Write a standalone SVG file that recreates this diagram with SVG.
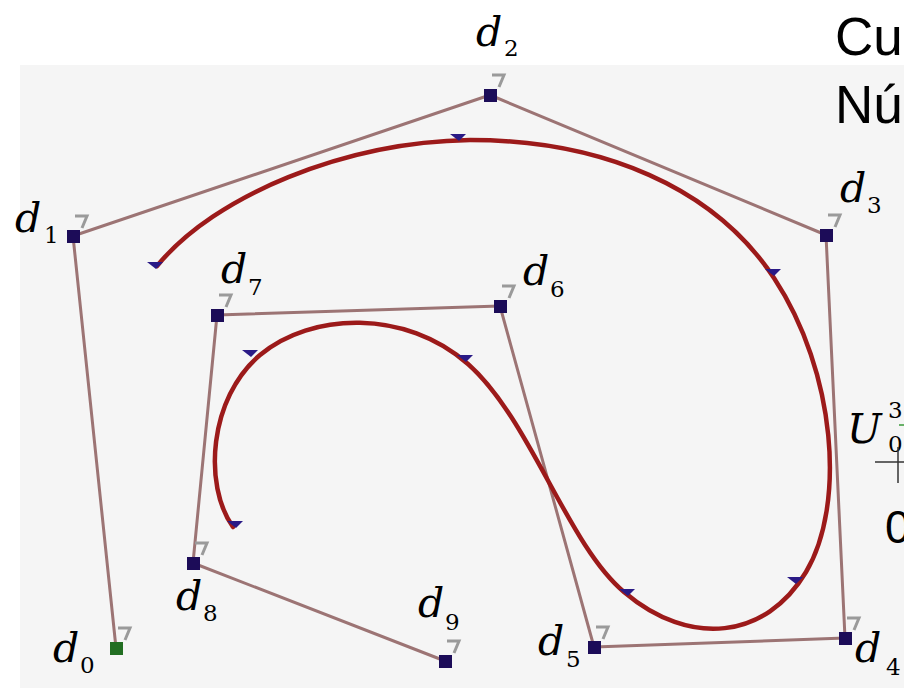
<svg xmlns="http://www.w3.org/2000/svg" width="904" height="689" viewBox="0 0 904 689">
<style>
.poly{fill:none;stroke:#9c7474;stroke-width:3;stroke-linejoin:round}
.curve{fill:none;stroke:#9c1a1a;stroke-width:4.5;stroke-linecap:round}
.pt{fill:#1c0c58}
.pt0{fill:#226e22}
.tick{fill:#2a1a86}
.idx{fill:none;stroke:#9a9a9a;stroke-width:3}
.lbl{font-family:"DejaVu Serif","Liberation Serif",serif;font-style:italic;font-size:41px;fill:#000}
.sub{font-family:"DejaVu Serif","Liberation Serif",serif;font-size:23px;fill:#000}
.sans{font-family:"Liberation Sans",Arial,sans-serif;fill:#000}
</style>
<defs>
<path id="mk" d="M2,-20 H14 L9,-8" class="idx"/>
<path id="tk" d="M-8,-3 L8,-3 L1,4 Z" class="tick"/>
</defs>
<rect x="0" y="0" width="904" height="689" fill="#ffffff"/>
<rect x="20" y="65" width="884" height="623" fill="#f5f5f5"/>

<g id="connectors">
<polyline class="poly" points="116,648 73,236 490,95 826,235 845,638 594,647 500,306 217,315 193,563 445,661"/>
<path class="curve" d="M157,266 C215,195 345,142 470,140 C602,140 714,187 774,278 C836,372 846,505 806,572 C766,639 690,648 624,592 C567,544 531,420 468,364 C406,309 311,312 260,355 C209,398 203,485 233,527"/>
<use href="#tk" x="155" y="265"/>
<use href="#tk" x="458" y="137"/>
<use href="#tk" x="773" y="272"/>
<use href="#tk" x="795" y="580"/>
<use href="#tk" x="627" y="592"/>
<use href="#tk" x="465" y="358"/>
<use href="#tk" x="250" y="353"/>
<use href="#tk" x="235" y="524"/>
</g>

<g id="d0"><use href="#mk" x="116" y="648"/><rect class="pt0" x="110" y="642" width="13" height="13"/><text class="lbl" x="53" y="662">d</text><text class="sub" x="80" y="673">0</text></g>
<g id="d1"><use href="#mk" x="73" y="236"/><rect class="pt" x="67" y="230" width="13" height="13"/><text class="lbl" x="15" y="232">d</text><text class="sub" x="44" y="243">1</text></g>
<g id="d2"><use href="#mk" x="490" y="95"/><rect class="pt" x="484" y="89" width="13" height="13"/><text class="lbl" x="476" y="46">d</text><text class="sub" x="504" y="56">2</text></g>
<g id="d3"><use href="#mk" x="826" y="235"/><rect class="pt" x="820" y="229" width="13" height="13"/><text class="lbl" x="840" y="202">d</text><text class="sub" x="867" y="213">3</text></g>
<g id="d4"><use href="#mk" x="845" y="638"/><rect class="pt" x="839" y="632" width="13" height="13"/><text class="lbl" x="855" y="662">d</text><text class="sub" x="886" y="675">4</text></g>
<g id="d5"><use href="#mk" x="594" y="647"/><rect class="pt" x="588" y="641" width="13" height="13"/><text class="lbl" x="538" y="655">d</text><text class="sub" x="566" y="667">5</text></g>
<g id="d6"><use href="#mk" x="500" y="306"/><rect class="pt" x="494" y="300" width="13" height="13"/><text class="lbl" x="523" y="285">d</text><text class="sub" x="550" y="297">6</text></g>
<g id="d7"><use href="#mk" x="217" y="315"/><rect class="pt" x="211" y="309" width="13" height="13"/><text class="lbl" x="221" y="283">d</text><text class="sub" x="248" y="295">7</text></g>
<g id="d8"><use href="#mk" x="193" y="563"/><rect class="pt" x="187" y="557" width="13" height="13"/><text class="lbl" x="176" y="610">d</text><text class="sub" x="203" y="621">8</text></g>
<g id="d9"><use href="#mk" x="445" y="661"/><rect class="pt" x="439" y="655" width="13" height="13"/><text class="lbl" x="418" y="617">d</text><text class="sub" x="445" y="630">9</text></g>

<g id="title">
<text class="sans" x="835" y="55" font-size="53">Cu</text>
<text class="sans" x="835" y="123" font-size="53">Nú</text>
</g>
<g id="u03">
<text class="lbl" x="847" y="443">U</text>
<text class="sub" x="888" y="418">3</text>
<text class="sub" x="888" y="452">0</text>
<line x1="899" y1="425" x2="904" y2="425" stroke="#3a9a3a" stroke-width="1.5"/>
<line x1="875" y1="462" x2="904" y2="462" stroke="#333" stroke-width="1.5"/>
<line x1="898" y1="447" x2="898" y2="483" stroke="#333" stroke-width="1.5"/>
<text class="sans" x="885" y="543" font-size="46">0</text>
</g>
</svg>
